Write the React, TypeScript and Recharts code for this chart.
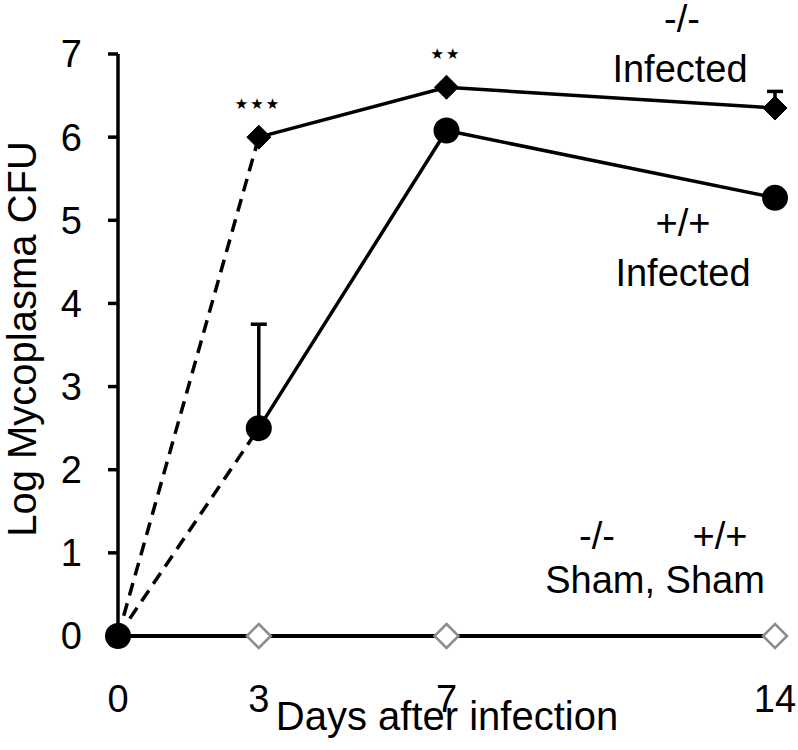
import React from "react";
import { ComposedChart, Line, XAxis, YAxis, ErrorBar } from "recharts";

// days after infection
const days = [0, 3, 7, 14];
// log Mycoplasma CFU
const koInfected = [0, 6.0, 6.6, 6.35];
const koInfectedErr = [null, null, null, 0.2];
const wtInfected = [0, 2.5, 6.08, 5.27];
const wtInfectedErr = [null, 1.25, null, null];
const koSham = [0, 0, 0, 0];
const wtSham = [0, 0, 0, 0];

const xTicks = [0, 3, 7, 14];
const yTicks = [0, 1, 2, 3, 4, 5, 6, 7];

const FONT = "'Liberation Sans', Arial, sans-serif";

// dashed segment runs day 0 -> 3, solid from day 3 on
const data = days.map((day, i) => ({
  day,
  koEarly: day <= 3 ? koInfected[i] : null,
  koLate: day >= 3 ? koInfected[i] : null,
  koErr: koInfectedErr[i] != null ? [0, koInfectedErr[i]] : undefined,
  wtEarly: day <= 3 ? wtInfected[i] : null,
  wtLate: day >= 3 ? wtInfected[i] : null,
  wtErr: wtInfectedErr[i] != null ? [0, wtInfectedErr[i]] : undefined,
  koSham: koSham[i],
  wtSham: wtSham[i],
}));

const diamond = (cx: number, cy: number, s: number) =>
  `M${cx},${cy - s}L${cx + s},${cy}L${cx},${cy + s}L${cx - s},${cy}Z`;

const filledDiamond = (props: any) => {
  const { cx, cy, index, value } = props;
  if (value == null || cx == null) return <g key={`kd${index}`} />;
  return <path key={`kd${index}`} d={diamond(cx, cy, 12)} fill="#000" stroke="#000" strokeWidth={1} />;
};

const filledCircle = (props: any) => {
  const { cx, cy, index, value } = props;
  if (value == null || cx == null) return <g key={`wc${index}`} />;
  return <circle key={`wc${index}`} cx={cx} cy={cy} r={13} fill="#000" />;
};

const originCircle = (props: any) => {
  const { cx, cy, index, payload } = props;
  if (payload.day !== 0) return <g key={`oc${index}`} />;
  return <circle key={`oc${index}`} cx={cx} cy={cy} r={13} fill="#000" />;
};

const openDiamond = (props: any) => {
  const { cx, cy, index, payload } = props;
  if (payload.day === 0) return <g key={`sd${index}`} />;
  return <path key={`sd${index}`} d={diamond(cx, cy, 12)} fill="#fff" stroke="#8c8c8c" strokeWidth={2.5} />;
};

const txt = { fontFamily: FONT, fontSize: 38, fill: "#000" };
const star = { fontFamily: "'DejaVu Sans', sans-serif", fontSize: 15, letterSpacing: 2, fill: "#000" };

export default function App() {
  return (
    <div style={{ position: "absolute", left: 0, top: 0, width: 798, height: 750, background: "#fff" }}>
      <ComposedChart width={798} height={750} data={data} margin={{ top: 54, right: 23, bottom: 0, left: 0 }}>
        <XAxis
          dataKey="day"
          type="number"
          domain={[0, 14]}
          ticks={xTicks}
          axisLine={false}
          tickLine={false}
          tickSize={10}
          tickMargin={39}
          height={114}
          tick={{ fontFamily: FONT, fontSize: 38, fill: "#000" }}
        />
        <YAxis
          type="number"
          domain={[0, 7]}
          ticks={yTicks}
          width={118}
          axisLine={{ stroke: "#000", strokeWidth: 3.5 }}
          tickLine={{ stroke: "#000", strokeWidth: 3.5 }}
          tickSize={10}
          tickMargin={26}
          tick={{ fontFamily: FONT, fontSize: 38, fill: "#000" }}
        />
        <Line dataKey="wtSham" stroke="#000" strokeWidth={4} dot={false} isAnimationActive={false} />
        <Line dataKey="koSham" stroke="#000" strokeWidth={4} dot={openDiamond} isAnimationActive={false} />
        <Line dataKey="koEarly" stroke="#000" strokeWidth={3.5} strokeDasharray="13 8" dot={false} connectNulls={false} isAnimationActive={false} />
        <Line dataKey="wtEarly" stroke="#000" strokeWidth={3.5} strokeDasharray="13 8" dot={originCircle} connectNulls={false} isAnimationActive={false} />
        <Line dataKey="koLate" stroke="#000" strokeWidth={3.5} dot={filledDiamond} connectNulls={false} isAnimationActive={false}>
          <ErrorBar dataKey="koErr" direction="y" width={8} strokeWidth={3.5} stroke="#000" />
        </Line>
        <Line dataKey="wtLate" stroke="#000" strokeWidth={3.5} dot={filledCircle} connectNulls={false} isAnimationActive={false}>
          <ErrorBar dataKey="wtErr" direction="y" width={8} strokeWidth={3.5} stroke="#000" />
        </Line>

        <text x={258} y={109} textAnchor="middle" style={star}>★★★</text>
        <text x={446} y={59} textAnchor="middle" style={star}>★★</text>

        <text x={682} y={32} textAnchor="middle" style={txt}>-/-</text>
        <text x={680} y={82} textAnchor="middle" style={txt}>Infected</text>
        <text x={683} y={236} textAnchor="middle" style={txt}>+/+</text>
        <text x={683} y={286} textAnchor="middle" style={txt}>Infected</text>
        <text x={597} y={549} textAnchor="middle" style={txt}>-/-</text>
        <text x={720} y={549} textAnchor="middle" style={txt}>+/+</text>
        <text x={655} y={593} textAnchor="middle" style={txt}>Sham, Sham</text>

        <text x={447} y={730} textAnchor="middle" style={{ ...txt, fontSize: 40 }}>Days after infection</text>
        <text x={36} y={339} textAnchor="middle" transform="rotate(-90, 36, 339)" style={{ ...txt, fontSize: 40 }}>Log Mycoplasma CFU</text>
      </ComposedChart>
    </div>
  );
}
